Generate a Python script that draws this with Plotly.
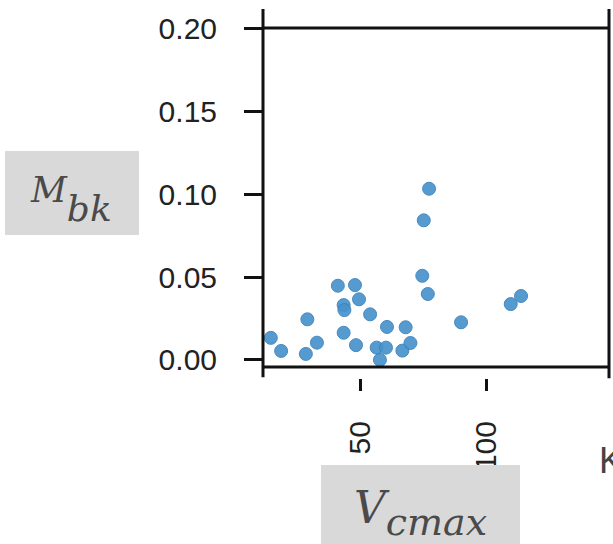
import plotly.graph_objects as go

# Data
vcmax = [77.4, 75.3, 74.7, 76.9, 41.2, 48.0, 49.6, 43.5, 43.8, 54.0, 29.1, 14.6, 18.7, 28.5,
         32.9, 43.5, 48.4, 60.7, 68.1, 56.6, 60.3, 57.9, 66.8, 70.0, 90.1, 109.8, 113.9]
mbk = [0.1034, 0.0843, 0.0508, 0.0398, 0.0448, 0.0452, 0.0366, 0.0331, 0.0301, 0.0275, 0.0245,
       0.0133, 0.0054, 0.0036, 0.0104, 0.0164, 0.0089, 0.0199, 0.0197, 0.0074, 0.0074, 0.0000,
       0.0056, 0.0102, 0.0227, 0.0337, 0.0386]
x_ticks = [50, 100]
x_ticklabels = ["50", "100"]
y_ticks = [0.00, 0.05, 0.10, 0.15, 0.20]
y_ticklabels = ["0.00", "0.05", "0.10", "0.15", "0.20"]

W, H = 613, 544
PL, PR, PT, PB = 263, 609, 28, 378          # plot area in page pixels
L, R, T, B = PL, W - PR, PT, H - PB
plot_w, plot_h = PR - PL, PB - PT
ydom0 = 11 / plot_h


def px(xp):
    return (xp - PL) / plot_w


def py(yp):
    return (PB - yp) / plot_h


fig = go.Figure()
fig.add_trace(go.Scatter(
    x=vcmax, y=mbk, mode="markers",
    marker=dict(size=13, color="#4893cd", opacity=0.92,
                line=dict(color="#3a80ba", width=1)),
    showlegend=False, cliponaxis=False,
))

tickfont = dict(family="Liberation Sans, Arial, sans-serif", size=30, color="#222222")

fig.update_layout(
    width=W, height=H,
    margin=dict(l=L, r=R, t=T, b=B, pad=0),
    paper_bgcolor="white", plot_bgcolor="white",
    xaxis=dict(range=[11.5, 148.8], anchor="free", position=0,
               showline=False, showgrid=False, zeroline=False,
               ticks="outside", ticklen=12, tickwidth=3, tickcolor="#111111",
               tickvals=x_ticks, ticktext=x_ticklabels, tickangle=-90,
               ticklabelstandoff=18, tickfont=tickfont),
    yaxis=dict(range=[-0.0043, 0.2005], domain=[ydom0, 1],
               showline=False, showgrid=False, zeroline=False,
               ticks="outside", ticklen=18, tickwidth=3, tickcolor="#111111",
               tickvals=y_ticks, ticktext=y_ticklabels,
               ticklabelstandoff=21, tickfont=tickfont),
)

line = dict(color="#111111", width=3)
# frame
fig.add_shape(type="line", xref="x domain", yref="y domain", x0=0, x1=1, y0=1, y1=1, line=line)
fig.add_shape(type="line", xref="x domain", yref="y domain", x0=0, x1=1, y0=0, y1=0, line=line)
fig.add_shape(type="line", xref="x domain", yref="y domain", x0=0, x1=0, y0=-0.03, y1=1.056, line=line)
fig.add_shape(type="line", xref="x domain", yref="y domain", x0=1, x1=1, y0=-0.033, y1=1.056, line=line)

# grey label boxes
box = dict(type="rect", xref="paper", yref="paper", fillcolor="#d9d9d9", line=dict(width=0))
fig.add_shape(**box, x0=px(5), x1=px(139), y0=py(235), y1=py(151))
fig.add_shape(**box, x0=px(321), x1=px(520), y0=py(560), y1=py(465))

serif = "DejaVu Serif, Liberation Serif, serif"
fig.add_annotation(
    xref="paper", yref="paper", x=px(71), y=py(199),
    text=("<span style='font-size:35px'><i>M</i></span>"
          "<sub><span style='font-size:36px'><i>bk</i></span></sub>"),
    showarrow=False,
    font=dict(family=serif, size=92, color="#4a4a4a"),
    xanchor="center", yanchor="middle",
)
fig.add_annotation(
    xref="paper", yref="paper", x=px(420), y=py(513),
    text=("<span style='font-size:44px'><i>V</i></span>"
          "<sub><span style='font-size:38px'><i>cmax</i></span></sub>"),
    showarrow=False,
    font=dict(family=serif, size=56, color="#4a4a4a"),
    xanchor="center", yanchor="middle",
)
fig.add_annotation(
    xref="paper", yref="paper", x=px(597), y=py(460),
    text="K", showarrow=False,
    font=dict(family="Liberation Sans, Arial, sans-serif", size=36, color="#444444"),
    xanchor="left", yanchor="middle",
)

fig.write_html(
    "out.html",
    config={"displayModeBar": False},
    post_script="document.body.style.margin='0';document.body.style.overflow='hidden';",
)
